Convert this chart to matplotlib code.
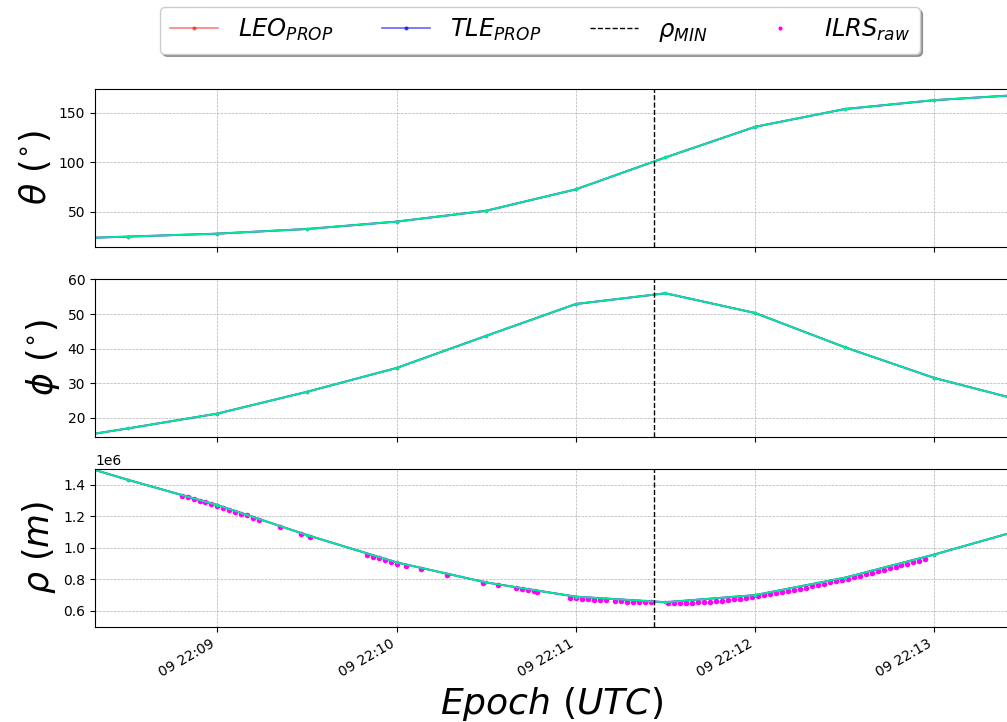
import numpy as np
import matplotlib
matplotlib.use("Agg")
import matplotlib.pyplot as plt
import matplotlib.dates as mdates
from matplotlib.lines import Line2D
from datetime import datetime, timedelta

# ---------------- data ----------------
base_time = datetime(2021, 2, 9, 22, 8, 0)
# propagated epochs (seconds after 22:08:00, 30 s spacing)
prop_sec = [0, 30, 60, 90, 120, 150, 180, 210, 240, 270, 300, 330]

leo_theta = [21.8, 24.8, 27.8, 32.5, 40.0, 51.0, 72.7, 105.0, 136.0, 154.0, 163.0, 168.6]
tle_theta = [21.8, 24.8, 27.8, 32.5, 40.0, 51.0, 72.7, 105.0, 136.0, 154.0, 163.0, 168.6]

leo_phi = [12.8, 16.9, 21.2, 27.5, 34.4, 43.7, 52.9, 56.0, 50.3, 40.4, 31.5, 24.8]
tle_phi = [12.8, 16.9, 21.2, 27.5, 34.4, 43.7, 52.9, 56.0, 50.3, 40.4, 31.5, 24.8]

leo_rho = [1.600e6, 1.430e6, 1.270e6, 1.080e6, 0.907e6, 0.780e6, 0.690e6,
           0.655e6, 0.700e6, 0.810e6, 0.957e6, 1.118e6]
tle_rho = [1.600e6, 1.430e6, 1.270e6, 1.080e6, 0.907e6, 0.780e6, 0.690e6,
           0.655e6, 0.700e6, 0.810e6, 0.957e6, 1.118e6]

# ILRS raw normal points (seconds after 22:08:00, range in m)
ilrs_sec = [48, 50, 52, 54, 56, 58, 60, 62, 64, 66, 68, 70, 72, 74, 81, 88, 91,
            110, 112, 114, 116, 118, 120, 123, 128, 137,
            149, 154, 160, 162, 164, 166, 167,
            178, 180, 182, 184, 186, 188, 190, 193, 195, 197, 199, 201, 203, 205, 211,
            213, 215, 217, 219, 221, 223, 225, 227, 229, 231, 233, 235, 237, 239,
            241, 243, 245, 247, 249, 251, 253, 255, 257, 259, 261, 263, 265, 267,
            269, 271, 273, 275, 277, 279, 281, 283, 285, 287, 289, 291, 293, 295, 297]
ilrs_rho = [1.328e6, 1.318e6, 1.308e6, 1.298e6, 1.288e6, 1.278e6, 1.266e6, 1.254e6,
            1.241e6, 1.229e6, 1.216e6, 1.204e6, 1.191e6, 1.178e6, 1.134e6, 1.089e6, 1.070e6,
            0.955e6, 0.944e6, 0.933e6, 0.921e6, 0.910e6, 0.899e6, 0.886e6, 0.865e6, 0.828e6,
            0.777e6, 0.761e6, 0.742e6, 0.736e6, 0.730e6, 0.724e6, 0.721e6,
            0.682e6, 0.679e6, 0.676e6, 0.673e6, 0.670e6, 0.668e6, 0.666e6, 0.663e6,
            0.661e6, 0.659e6, 0.657e6, 0.656e6, 0.655e6, 0.654e6, 0.653e6,
            0.648e6, 0.649e6, 0.650e6, 0.652e6, 0.654e6, 0.656e6, 0.659e6, 0.662e6,
            0.665e6, 0.669e6, 0.673e6, 0.677e6, 0.682e6, 0.687e6,
            0.693e6, 0.699e6, 0.706e6, 0.712e6, 0.719e6, 0.726e6, 0.733e6, 0.741e6,
            0.748e6, 0.756e6, 0.764e6, 0.772e6, 0.780e6, 0.788e6,
            0.796e6, 0.805e6, 0.813e6, 0.822e6, 0.832e6, 0.841e6, 0.850e6, 0.860e6,
            0.869e6, 0.879e6, 0.889e6, 0.899e6, 0.909e6, 0.919e6, 0.928e6]

rho_min_sec = 206          # epoch of minimum range (22:11:26)
xlim_sec = (19, 325)

# ---------------- plotting ----------------
def to_dt(secs):
    return [base_time + timedelta(seconds=float(s)) for s in secs]

t_prop = to_dt(prop_sec)
t_ilrs = to_dt(ilrs_sec)
t_min = to_dt([rho_min_sec])[0]

fig, axes = plt.subplots(3, 1, sharex=True, figsize=(10.07, 7.22), dpi=100)
fig.subplots_adjust(left=0.0943, right=1.002, top=0.877, bottom=0.132, hspace=0.2025)

green = '#00ea98'
series = [(leo_theta, tle_theta), (leo_phi, tle_phi), (leo_rho, tle_rho)]
ylabels = [r'$\theta\ (^{\circ})$', r'$\phi\ (^{\circ})$', r'$\rho\ (m)$']
ylims = [(14.5, 174.5), (14.5, 60.2), (0.5e6, 1.5e6)]

for ax, (leo, tle), yl, lim in zip(axes, series, ylabels, ylims):
    ax.plot(t_prop, leo, color='red', alpha=0.5, lw=1.2, marker='.', ms=3,
            label=r'$LEO_{PROP}$')
    ax.plot(t_prop, tle, color='blue', alpha=0.6, lw=1.5, marker='.', ms=3,
            label=r'$TLE_{PROP}$')
    if ax is axes[2]:
        ax.plot(t_ilrs, ilrs_rho, linestyle='none', marker='o', ms=4.0,
                color='magenta', markeredgewidth=0, label=r'$ILRS_{raw}$')
    ax.plot(t_prop, leo, color=green, lw=1.3, marker='.', ms=3)
    ax.axvline(t_min, color='black', ls='--', lw=1.0, label=r'$\rho_{MIN}$')
    ax.set_ylim(*lim)
    ax.set_ylabel(yl, fontsize=25)
    ax.grid(True, ls='--', lw=0.5, color='#b0b0b0')
    ax.tick_params(labelsize=10)

axes[0].set_yticks([50, 100, 150])
axes[1].set_yticks([20, 30, 40, 50, 60])
axes[2].set_yticks([0.6e6, 0.8e6, 1.0e6, 1.2e6, 1.4e6])

axes[2].set_xlim(to_dt([xlim_sec[0]])[0], to_dt([xlim_sec[1]])[0])
axes[2].xaxis.set_major_locator(mdates.MinuteLocator())
axes[2].xaxis.set_major_formatter(mdates.DateFormatter('%d %H:%M'))
for lbl in axes[2].get_xticklabels():
    lbl.set_rotation(30)
    lbl.set_ha('right')
axes[2].set_xlabel(r'$Epoch\ (UTC)$', fontsize=26)

handles = [
    Line2D([], [], color='red', alpha=0.5, lw=1.2, marker='.', ms=4),
    Line2D([], [], color='blue', alpha=0.6, lw=1.2, marker='.', ms=4),
    Line2D([], [], color='black', ls='--', lw=1.0),
    Line2D([], [], color='magenta', ls='none', marker='.', ms=4),
]
labels = [r'$LEO_{PROP}$', r'$TLE_{PROP}$', r'$\rho_{MIN}$', r'$ILRS_{raw}$']
fig.legend(handles, labels, loc='center', bbox_to_anchor=(0.536, 0.958), ncol=4,
           fontsize=17.5, shadow=True, fancybox=True, framealpha=1.0)

fig.savefig('out.png', dpi=100)
